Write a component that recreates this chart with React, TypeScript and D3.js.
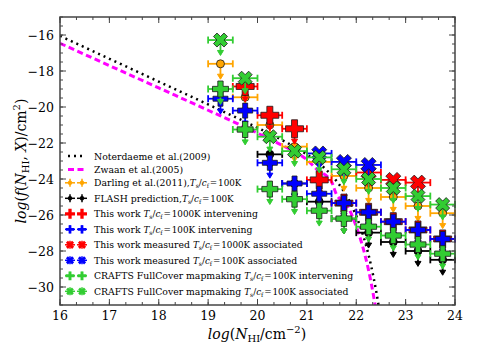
import React from "react";
import * as d3 from "d3";

const W = 480;
const H = 360;
const margin = { top: 17, right: 25, bottom: 55, left: 60 };

// column density bins, log N_HI
const binsN = [19.25, 19.75, 20.25, 20.75, 21.25, 21.75, 22.25, 22.75, 23.25, 23.75];

// model curves
const noterN = [16, 17, 18, 19, 20, 20.5, 21, 21.2, 21.5, 21.6, 21.8, 22, 22.1, 22.2, 22.3, 22.4, 22.5];
const noterF = [-16.05, -17.32, -18.59, -19.86, -21.15, -21.84, -22.64, -23.03, -23.79, -24.11, -24.93, -26.06, -26.8, -27.7, -28.81, -30.18, -31.85];
const zwaanN = [16, 17, 18, 19, 20, 20.5, 21, 21.2, 21.5, 21.6, 21.8, 22, 22.1, 22.2, 22.3, 22.4];
const zwaanF = [-16.46, -17.7, -18.94, -20.18, -21.45, -22.13, -22.93, -23.46, -24.15, -24.87, -25.39, -26.64, -27.47, -28.48, -29.74, -31.28];

// upper limits per bin (null = no point)
const darlingF = [-17.6, -19.46, -21.0, -22.2, -23.05, -23.83, -24.5, -25.0, -25.5, -25.9];
const flashF = [null, null, -22.63, -24.25, -25.26, -26.2, -26.98, -27.5, -28.0, -28.49];
const work1000F = [null, -18.86, -20.46, -21.21, -24.05, -25.34, -25.85, -26.37, -26.83, -27.33];
const work100F = [-19.54, -20.2, -23.1, -24.25, -24.82, -25.34, -25.85, -26.37, -26.83, -27.33];
const meas1000F = [null, null, null, null, null, null, -23.64, -24.05, -24.2, null];
const meas100F = [null, null, null, null, -22.58, -23.05, -23.22, null, null, null];
const craftsIntF = [-19.0, -21.25, -24.56, -25.12, -25.76, -26.2, -26.65, -27.14, -27.64, -28.15];
const craftsAssF = [-16.28, -18.4, -21.65, -22.45, -22.8, -23.46, -24.0, -24.5, -24.95, -25.42];

const xTicks = [16, 17, 18, 19, 20, 21, 22, 23, 24];
const yTicks = [-16, -18, -20, -22, -24, -26, -28, -30];

const legendText = [
  "Noterdaeme et al.(2009)",
  "Zwaan et al.(2005)",
  "Darling et al.(2011),",
  "FLASH prediction,",
  "This work ",
  "This work ",
  "This work measured ",
  "This work measured ",
  "CRAFTS FullCover mapmaking ",
  "CRAFTS FullCover mapmaking ",
];
const legendTemp = [null, null, 100, 100, 1000, 100, 1000, 100, 100, 100];
const legendTail = ["", "", "", "", " intervening", " intervening", " associated", " associated", " intervening", " associated"];

const binHalf = 0.25;
const limitLen = 0.8;
const serif = "'DejaVu Serif', serif";

const series = [
  { ys: darlingF, color: "#ffa500", marker: "o", size: 8 },
  { ys: flashF, color: "#000000", marker: "o", size: 8 },
  { ys: work1000F, color: "#ff0000", marker: "P", size: 18 },
  { ys: work100F, color: "#0000ff", marker: "P", size: 15 },
  { ys: meas1000F, color: "#ff0000", marker: "X", size: 15 },
  { ys: meas100F, color: "#0000ff", marker: "X", size: 15 },
  { ys: craftsIntF, color: "#32cd32", marker: "P", size: 16 },
  { ys: craftsAssF, color: "#32cd32", marker: "X", size: 14 },
];

function markerPath(type: string, s: number) {
  if (type === "P") {
    const h = s / 2, a = s / 6;
    const p = [[-a, -h], [a, -h], [a, -a], [h, -a], [h, a], [a, a], [a, h], [-a, h], [-a, a], [-h, a], [-h, -a], [-a, -a]];
    return "M" + p.map((d) => d.join(",")).join("L") + "Z";
  }
  if (type === "X") {
    const p = [[-0.25, -0.5], [0, -0.25], [0.25, -0.5], [0.5, -0.25], [0.25, 0], [0.5, 0.25], [0.25, 0.5], [0, 0.25], [-0.25, 0.5], [-0.5, 0.25], [-0.25, 0], [-0.5, -0.25]];
    return "M" + p.map((d) => [d[0] * s, d[1] * s].join(",")).join("L") + "Z";
  }
  const r = s / 2;
  return `M${-r},0A${r},${r} 0 1,0 ${r},0A${r},${r} 0 1,0 ${-r},0Z`;
}

function Marker({ type, size, color, x, y }: any) {
  return (
    <path
      d={markerPath(type, size)}
      transform={`translate(${x},${y})`}
      fill={color}
      stroke={color === "#000000" ? "#000" : "#1a1a1a"}
      strokeWidth={0.8}
      strokeLinejoin="miter"
    />
  );
}

// T_s/c_f = ...K, set tight like mathtext
function TsCf({ val }: { val: number }) {
  return (
    <>
      <tspan fontStyle="italic" fontSize="8.8">T</tspan>
      <tspan fontSize="6" dy="2">s</tspan>
      <tspan dy="-2" fontSize="8.8">/</tspan>
      <tspan fontStyle="italic" fontSize="8.8">c</tspan>
      <tspan fontSize="6" dy="2">f</tspan>
      <tspan dy="-2" fontSize="8.8">{"\u200a=\u200a" + val + "K"}</tspan>
    </>
  );
}

export default function App() {
  const x = d3.scaleLinear().domain([16, 24]).range([margin.left, W - margin.right]);
  const y = d3.scaleLinear().domain([-31, -15]).range([H - margin.bottom, margin.top]);
  const [x0, x1] = x.range();
  const [y0, y1] = y.range();

  const noterPath = d3
    .line<number>()
    .x((d) => x(d))
    .y((_, i) => y(noterF[i]))
    .curve(d3.curveMonotoneX)(noterN);
  const zwaanPath = d3
    .line<number>()
    .x((d) => x(d))
    .y((_, i) => y(zwaanF[i]))
    .curve(d3.curveMonotoneX)(zwaanN);

  const xMinor = d3.range(16, 24.001, 1 / 3);
  const yMinor = d3.range(-31, -14.999, 0.5);

  const rowY = (i: number) => (i < 2 ? 156 + 13.4 * i : 182.8 + 15.5 * (i - 2));

  return (
    <svg width={W} height={H} style={{ position: "absolute", left: 0, top: 0, background: "#fff" }} fontFamily={serif}>
      <defs>
        <clipPath id="plot">
          <rect x={x0} y={y1} width={x1 - x0} height={y0 - y1} />
        </clipPath>
      </defs>

      {/* model curves */}
      <g clipPath="url(#plot)" fill="none">
        <path d={noterPath || ""} stroke="#000" strokeWidth={2.5} strokeDasharray="2,4" />
        <path d={zwaanPath || ""} stroke="#ff00ff" strokeWidth={3} strokeDasharray="6,3.5" />
      </g>

      {/* data: upper limits with bin widths */}
      {series.map((s, si) => (
        <g key={si}>
          {s.ys.map((v, i) => {
            if (v == null) return null;
            const cx = x(binsN[i]);
            const cy = y(v);
            const ya = y(v - limitLen);
            return (
              <g key={i} stroke={s.color} strokeWidth={1.8} fill="none">
                <line x1={x(binsN[i] - binHalf)} x2={x(binsN[i] + binHalf)} y1={cy} y2={cy} />
                <line x1={x(binsN[i] - binHalf)} x2={x(binsN[i] - binHalf)} y1={cy - 3.5} y2={cy + 3.5} />
                <line x1={x(binsN[i] + binHalf)} x2={x(binsN[i] + binHalf)} y1={cy - 3.5} y2={cy + 3.5} />
                <line x1={cx} x2={cx} y1={cy} y2={ya - 2} />
                <path d={`M${cx - 3},${ya - 4}L${cx + 3},${ya - 4}L${cx},${ya + 1}Z`} fill={s.color} strokeWidth={1} />
              </g>
            );
          })}
          {s.ys.map((v, i) =>
            v == null ? null : <Marker key={"m" + i} type={s.marker} size={s.size} color={s.color} x={x(binsN[i])} y={y(v)} />
          )}
        </g>
      ))}

      {/* frame and ticks */}
      <rect x={x0} y={y1} width={x1 - x0} height={y0 - y1} fill="none" stroke="#444" strokeWidth={1.5} />
      <g stroke="#444" strokeWidth={1}>
        {xMinor.map((t) => (
          <g key={"xm" + t}>
            <line x1={x(t)} x2={x(t)} y1={y0} y2={y0 - 3} />
            <line x1={x(t)} x2={x(t)} y1={y1} y2={y1 + 3} />
          </g>
        ))}
        {xTicks.map((t) => (
          <g key={"xt" + t}>
            <line x1={x(t)} x2={x(t)} y1={y0} y2={y0 - 6} />
            <line x1={x(t)} x2={x(t)} y1={y1} y2={y1 + 6} />
          </g>
        ))}
        {yMinor.map((t) => (
          <g key={"ym" + t}>
            <line x1={x0} x2={x0 + 3} y1={y(t)} y2={y(t)} />
            <line x1={x1} x2={x1 - 3} y1={y(t)} y2={y(t)} />
          </g>
        ))}
        {yTicks.map((t) => (
          <g key={"yt" + t}>
            <line x1={x0} x2={x0 + 6} y1={y(t)} y2={y(t)} />
            <line x1={x1} x2={x1 - 6} y1={y(t)} y2={y(t)} />
          </g>
        ))}
      </g>
      <g fontSize={12.5} fill="#000">
        {xTicks.map((t) => (
          <text key={"xl" + t} x={x(t)} y={y0 + 15} textAnchor="middle">
            {t}
          </text>
        ))}
        {yTicks.map((t) => (
          <text key={"yl" + t} x={x0 - 6} y={y(t) + 4.5} textAnchor="end">
            {"\u2212" + Math.abs(t)}
          </text>
        ))}
      </g>

      {/* axis labels */}
      <text x={257} y={339} textAnchor="middle" fontSize={14}>
        <tspan fontStyle="italic">log</tspan>
        <tspan>(</tspan>
        <tspan fontStyle="italic">N</tspan>
        <tspan fontSize={10} dy={3}>HI</tspan>
        <tspan dy={-3}>/cm</tspan>
        <tspan fontSize={10} dy={-6}>{"\u22122"}</tspan>
        <tspan dy={6}>)</tspan>
      </text>
      <text transform="translate(26,161) rotate(-90)" textAnchor="middle" fontSize={14}>
        <tspan fontStyle="italic">log</tspan>
        <tspan>(</tspan>
        <tspan fontStyle="italic">f</tspan>
        <tspan>(</tspan>
        <tspan fontStyle="italic">N</tspan>
        <tspan fontSize={10} dy={3}>HI</tspan>
        <tspan dy={-3}>, </tspan>
        <tspan fontStyle="italic">X</tspan>
        <tspan>)/cm</tspan>
        <tspan fontSize={10} dy={-6}>2</tspan>
        <tspan dy={6}>)</tspan>
      </text>

      {/* legend */}
      <g fontSize={9.3}>
        {legendText.map((t, i) => {
          const ry = rowY(i);
          let handle;
          if (i === 0) {
            handle = <line x1={68} x2={86} y1={ry} y2={ry} stroke="#000" strokeWidth={2.5} strokeDasharray="2,4" />;
          } else if (i === 1) {
            handle = <line x1={68} x2={87} y1={ry} y2={ry} stroke="#ff00ff" strokeWidth={3} strokeDasharray="6,3.5" />;
          } else {
            const s = series[i - 2];
            handle = (
              <g>
                {[70, 82].map((hx) => (
                  <g key={hx}>
                    <g stroke={s.color} strokeWidth={1.5}>
                      <line x1={hx - 5} x2={hx + 5} y1={ry} y2={ry} />
                      <line x1={hx} x2={hx} y1={ry - 4} y2={ry + 4} />
                    </g>
                    <path d={markerPath(s.marker, s.size * 0.55)} transform={`translate(${hx},${ry})`} fill={s.color} />
                  </g>
                ))}
              </g>
            );
          }
          const temp = legendTemp[i];
          return (
            <g key={i}>
              {handle}
              <text x={94} y={ry + 3.5}>
                <tspan>{t}</tspan>
                {temp != null && <TsCf val={temp} />}
                {legendTail[i] && <tspan>{legendTail[i]}</tspan>}
              </text>
            </g>
          );
        })}
      </g>
    </svg>
  );
}
